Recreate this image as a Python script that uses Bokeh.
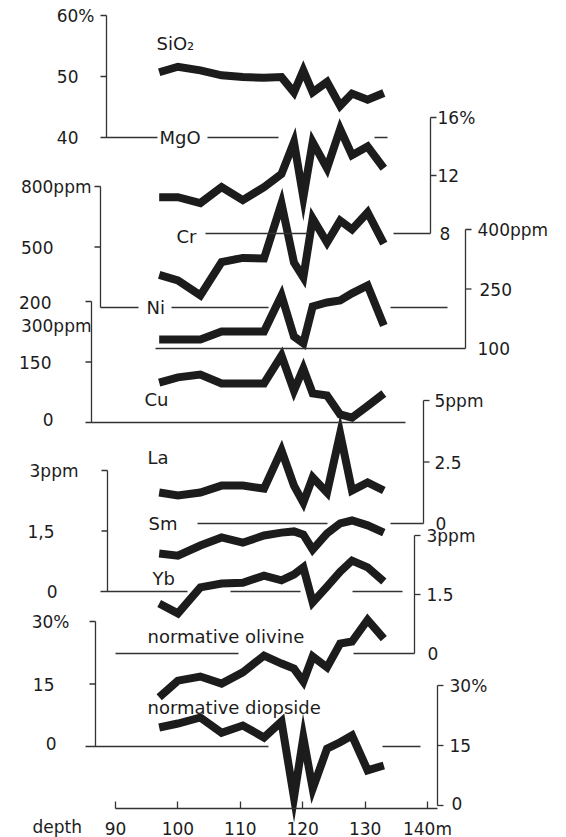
from bokeh.plotting import figure
from bokeh.models import Range1d, FixedTicker
from bokeh.embed import file_html
from bokeh.resources import INLINE
from bokeh.core.properties import value

# ---- data ----
depth = [97.0, 100.0, 103.6, 107.0, 110.4, 113.8, 116.6, 118.6, 120.1, 121.6, 123.9, 126.0, 127.9, 130.4, 133.0]
sio2 = [50.7, 51.6, 51.0, 50.2, 49.9, 49.8, 49.9, 47.4, 51.0, 47.4, 49.1, 45.2, 47.2, 46.2, 47.3]
mgo = [10.5, 10.5, 10.1, 11.2, 10.3, 11.2, 12.1, 14.3, 10.5, 14.3, 12.5, 15.2, 13.4, 14.0, 12.5]
cr = [362, 334, 260, 425, 446, 443, 716, 423, 349, 641, 522, 631, 587, 671, 517]
ni = [123, 123, 123, 143, 143, 143, 234, 130, 113, 206, 216, 221, 239, 259, 158]
cu = [99, 112, 119, 97, 97, 97, 166, 79, 134, 72, 67, 20, 12, 41, 72]
la = [1.26, 1.14, 1.26, 1.54, 1.54, 1.42, 2.97, 1.54, 0.85, 1.87, 1.26, 3.66, 1.34, 1.67, 1.34]
sm = [0.94, 0.89, 1.14, 1.34, 1.21, 1.39, 1.46, 1.49, 1.41, 1.04, 1.44, 1.69, 1.76, 1.64, 1.46]
yb = [1.27, 1.02, 1.68, 1.78, 1.80, 1.98, 1.86, 2.01, 2.19, 1.30, 1.70, 2.08, 2.36, 2.19, 1.83]
olivine = [11.8, 15.8, 16.8, 15.1, 17.8, 21.8, 19.9, 18.7, 15.6, 21.6, 19.0, 24.7, 25.2, 30.4, 25.9]
diopside = [19.5, 20.5, 22.0, 18.2, 20.0, 17.0, 21.0, 2.0, 17.0, 4.2, 14.2, 15.8, 17.5, 8.8, 10.0]
depth_ticks = [90, 100, 110, 120, 130, 140]

FONT = value("DejaVu Sans")
INK = "#1c1c1c"
AX = "#333333"
W, H = 566, 837

# ---- layout helpers (pixel layout of the frame) ----
FT, FB = 0, H            # frame covers the whole picture
PXM = 6.24               # px per metre
def X(px):
    return 90 + (px - 115) / PXM

def band(v0, y0, v1, y1):
    s = (v1 - v0) / (y1 - y0)
    return Range1d(start=v0 + s * (FB - y0), end=v0 + s * (FT - y0))

p = figure(width=W, height=H, output_backend="svg", toolbar_location=None,
           x_range=Range1d(X(0), X(W)), y_range=Range1d(FB, FT),
           y_axis_location=None, min_border_left=0, min_border_right=0,
           min_border_top=0, min_border_bottom=0)
p.grid.visible = False
p.outline_line_color = None
p.background_fill_color = "white"
p.border_fill_color = "white"

p.extra_y_ranges = {
    "sio2": band(40, 137, 60, 15),
    "mgo": band(8, 233, 16, 117),
    "cr": band(200, 307, 800, 186),
    "ni": band(100, 348, 400, 229),
    "cu": band(0, 422, 300, 301),
    "la": band(0, 523, 5, 400),
    "sm": band(0, 591, 3, 470),
    "yb": band(0, 653, 3, 535),
    "ol": band(0, 746, 30, 621),
    "di": band(0, 805, 30, 685),
}

series = [("sio2", sio2), ("mgo", mgo), ("cr", cr), ("ni", ni), ("cu", cu),
          ("la", la), ("sm", sm), ("yb", yb), ("ol", olivine), ("di", diopside)]
for name, vals in series:
    p.line(depth, vals, y_range_name=name, line_width=8, line_color=INK,
           line_join="miter", line_cap="butt")

def txt(xpx, y, s, rng="default", align="left", size="17px", yoff=0):
    p.text(x=[X(xpx)], y=[y], text=[s], y_range_name=rng, text_align=align,
           text_baseline="middle", text_font=FONT, text_font_size=size,
           text_color=INK, y_offset=yoff)

def seg(x0, x1, v0, v1, rng, w=1.3):
    p.segment(x0=[X(x0)], y0=[v0], x1=[X(x1)], y1=[v1], y_range_name=rng,
              line_color=AX, line_width=w)

# axes: (range, side, x px, vmax, vmin, ticks, labels[(text, value, xpx, yoff)])
axes = [
    ("sio2", "L", 106, 60, 40, [60, 50], [("60%", 60, 94, 0), ("50", 50, 78, 0), ("40", 40, 78, 0)]),
    ("mgo", "R", 430, 16, 8, [16, 12], [("16%", 16, 437, 0), ("12", 12, 437, 0), ("8", 8, 439, 0)]),
    ("cr", "L", 100, 800, 200, [800, 500], [("800ppm", 800, 91, 0), ("500", 500, 53, 0), ("200", 200, 51, -5)]),
    ("ni", "R", 465, 400, 100, [400, 250], [("400ppm", 400, 477, 0), ("250", 250, 479, 0), ("100", 100, 477, 0)]),
    ("cu", "L", 91, 300, 0, [300, 150], [("300ppm", 300, 91, 24), ("150", 150, 51, 0), ("0", 0, 53, -3)]),
    ("la", "R", 423, 5, 0, [5, 2.5], [("5ppm", 5, 434, 0), ("2.5", 2.5, 434, 0), ("0", 0, 435, 0)]),
    ("sm", "L", 107, 3, 0, [3, 1.5], [("3ppm", 3, 78, 0), ("1,5", 1.5, 54, 0), ("0", 0, 57, 0)]),
    ("yb", "R", 414, 3, 0, [3, 1.5], [("3ppm", 3, 426, 0), ("1.5", 1.5, 426, 0), ("0", 0, 427, 0)]),
    ("ol", "L", 95, 30, 0, [30, 15], [("30%", 30, 69, 0), ("15", 15, 54, 0), ("0", 0, 56, -3)]),
    ("di", "R", 437, 30, 0, [30, 15, 0], [("30%", 30, 449, 0), ("15", 15, 449, 0), ("0", 0, 451, -2)]),
]
for rng, side, ax, vmax, vmin, ticks, labels in axes:
    seg(ax, ax, vmin, vmax, rng)
    for t in ticks:
        seg(ax, ax - 6 if side == "L" else ax + 6, t, t, rng)
    for s, v, xpx, yoff in labels:
        txt(xpx, v, s, rng, "right" if side == "L" else "left", yoff=yoff)

# baselines (reference lines at each scale's base, interrupted by labels/curves)
baselines = [
    ("sio2", 40, [(100, 157), (207, 278), (374, 387)]),
    ("mgo", 8, [(205, 308), (393, 430)]),
    ("cr", 200, [(100, 138), (171, 268), (390, 447)]),
    ("ni", 100, [(155, 465)]),
    ("cu", 0, [(85, 405)]),
    ("la", 0, [(197, 327), (390, 423)]),
    ("sm", 0, [(100, 187), (230, 300), (352, 402)]),
    ("yb", 0, [(115, 238), (353, 414)]),
    ("ol", 0, [(85, 268), (382, 420)]),
]
for rng, v, spans in baselines:
    for a, b in spans:
        seg(a, b, v, v, rng)

# series names
names = [
    (156, 43, "SiO\u2082"), (159, 137, "MgO"), (176, 236, "Cr"), (146, 307, "Ni"),
    (144, 399, "Cu"), (147, 457, "La"), (148, 523, "Sm"), (152, 578, "Yb"),
    (147, 636, "normative olivine"), (147, 707, "normative diopside"),
]
for xpx, ypx, s in names:
    txt(xpx, ypx, s, size="18px")

# depth axis, drawn inside the frame at its place
xa = p.xaxis[0]
xa.fixed_location = 808
xa.ticker = FixedTicker(ticks=depth_ticks)
xa.bounds = (90, X(437))
xa.major_tick_in = 7
xa.major_tick_out = 0
xa.minor_tick_line_color = None
xa.axis_line_color = AX
xa.axis_line_width = 1.3
xa.major_tick_line_color = AX
xa.major_tick_line_width = 1.3
xa.major_label_standoff = 10
xa.major_label_text_font = "DejaVu Sans"
xa.major_label_text_font_size = "17px"
xa.major_label_text_color = INK
xa.major_label_overrides = {140: "140m"}

txt(32, 826, "depth")

open("out.html", "w").write(file_html(p, INLINE))
